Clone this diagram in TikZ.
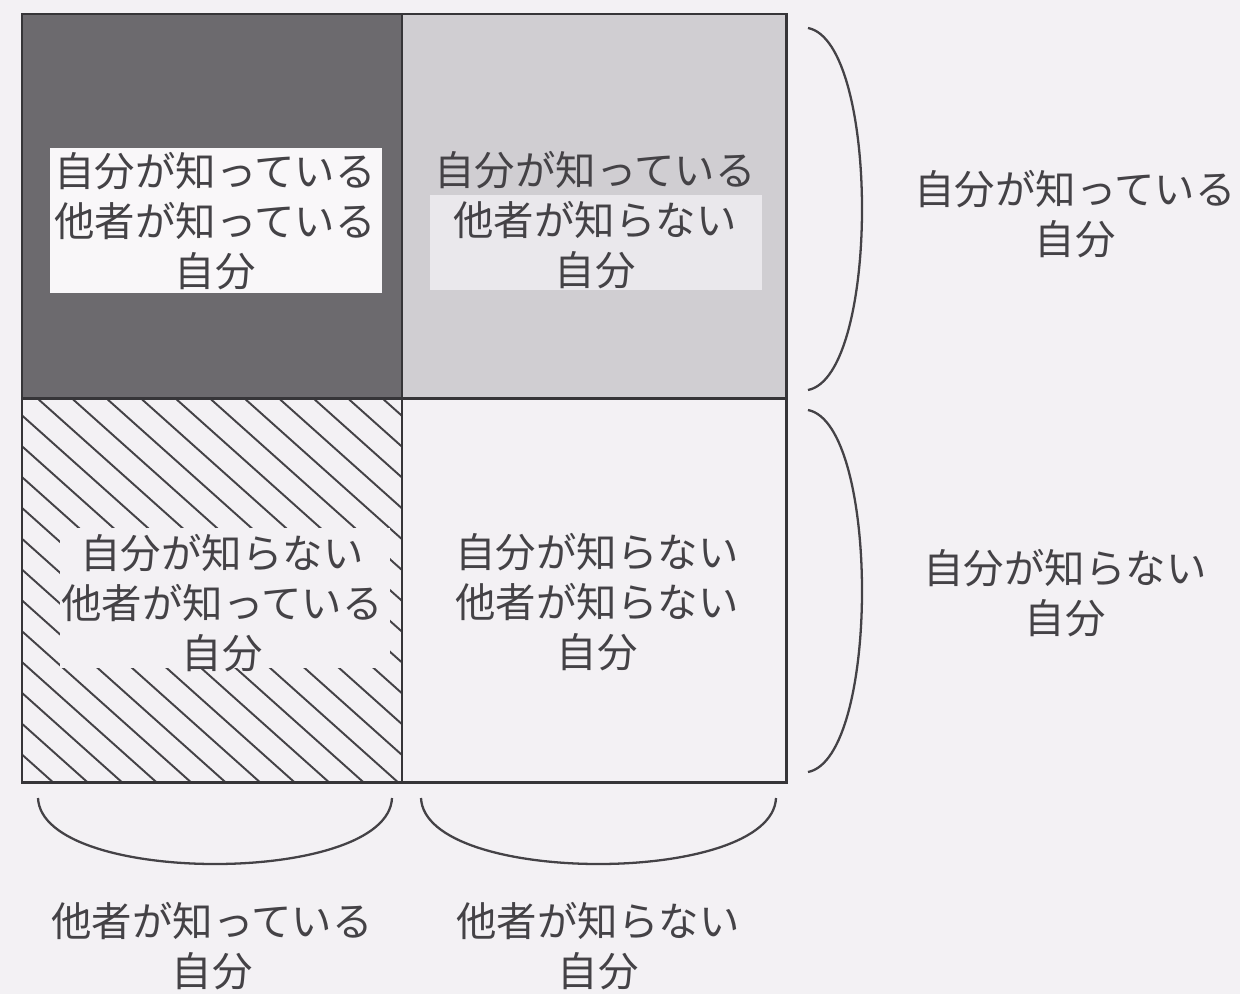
\documentclass[tikz,border=0pt]{standalone}
\usepackage{fontspec}
\newfontfamily\jp{Noto Sans CJK JP}
\definecolor{bg}{RGB}{243,241,244}
\definecolor{darkcell}{RGB}{108,106,110}
\definecolor{lightcell}{RGB}{208,206,210}
\definecolor{patch}{RGB}{234,232,236}
\definecolor{ink}{RGB}{68,66,70}
\definecolor{boxw}{RGB}{249,247,249}
\begin{document}
\begin{tikzpicture}[x=0.02cm,y=-0.02cm,
  lab/.style={font=\jp\fontsize{23pt}{28.3pt}\selectfont, text=ink, align=center, inner sep=0pt},
  gridline/.style={draw=ink!80!black, line width=1.7pt},
  bracecurve/.style={draw=ink, line width=1.3pt},
  hatchline/.style={draw=ink, line width=1.1pt}]
\fill[bg] (0,0) rectangle (1240,994);
\useasboundingbox (0,0) rectangle (1240,994);
% cell fills
\fill[darkcell] (22,14) rectangle (402,398);
\fill[lightcell] (402,14) rectangle (786,398);
\begin{scope}
  \clip (22,398) rectangle (402,782);
  \foreach \k in {-14,...,11} \draw[hatchline] ({37+34.5*\k},398) -- ++(470,420);
\end{scope}
\fill[bg] (60,528) rectangle (390,668);
\fill[boxw] (50,148) rectangle (382,293);
\fill[patch] (430,195) rectangle (762,290);
% grid
\draw[gridline] (22,14) rectangle (786,782);
\draw[gridline] (402,14) -- (402,782);
\draw[gridline] (22,398) -- (786,398);
% cell texts
\node[lab] (tl) at (215,221) {自分が知っている\\他者が知っている\\自分};
\node[lab] (tr) at (595,220) {自分が知っている\\他者が知らない\\自分};
\node[lab] (bl) at (222,603) {自分が知らない\\他者が知っている\\自分};
\node[lab] (br) at (597,602) {自分が知らない\\他者が知らない\\自分};
% side labels
\node[lab] (known) at (1075,214) {自分が知っている\\自分};
\node[lab] (unknown) at (1065,593) {自分が知らない\\自分};
\node[lab] (oknown) at (212,946) {他者が知っている\\自分};
\node[lab] (ounknown) at (598,946) {他者が知らない\\自分};
% braces
\draw[bracecurve] (808,28) .. controls (880,42) and (880,376) .. (808,390);
\draw[bracecurve] (808,410) .. controls (880,424) and (880,758) .. (808,772);
\draw[bracecurve] (38,798) .. controls (42,886) and (388,886) .. (392,798);
\draw[bracecurve] (421,798) .. controls (425,886) and (772,886) .. (776,798);
\end{tikzpicture}
\end{document}
